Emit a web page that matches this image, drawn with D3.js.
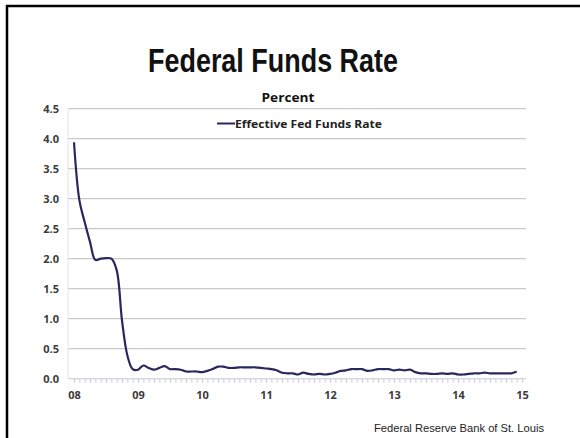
<!DOCTYPE html>
<html>
<head>
<meta charset="utf-8">
<script src="https://cdn.jsdelivr.net/npm/d3@7"></script>
<style>
  html, body { margin: 0; padding: 0; background: #fff; }
  svg { display: block; }
</style>
</head>
<body>
<svg id="chart" width="580" height="438"></svg>
<script>
// Monthly effective federal funds rate, Jan 2008 - Dec 2014 (percent)
const rate2008 = [3.94, 2.98, 2.61, 2.28, 1.98, 2.00, 2.01, 2.00, 1.81, 0.97, 0.39, 0.16];
const rate2009 = [0.15, 0.22, 0.18, 0.15, 0.18, 0.21, 0.16, 0.16, 0.15, 0.12, 0.12, 0.12];
const rate2010 = [0.11, 0.13, 0.16, 0.20, 0.20, 0.18, 0.18, 0.19, 0.19, 0.19, 0.19, 0.18];
const rate2011 = [0.17, 0.16, 0.14, 0.10, 0.09, 0.09, 0.07, 0.10, 0.08, 0.07, 0.08, 0.07];
const rate2012 = [0.08, 0.10, 0.13, 0.14, 0.16, 0.16, 0.16, 0.13, 0.14, 0.16, 0.16, 0.16];
const rate2013 = [0.14, 0.15, 0.14, 0.15, 0.11, 0.09, 0.09, 0.08, 0.08, 0.09, 0.08, 0.09];
const rate2014 = [0.07, 0.07, 0.08, 0.09, 0.09, 0.10, 0.09, 0.09, 0.09, 0.09, 0.09, 0.12];
const startYear = 2008;
const yearLabels = ["08", "09", "10", "11", "12", "13", "14", "15"];
const yTicks = [0, 0.5, 1.0, 1.5, 2.0, 2.5, 3.0, 3.5, 4.0, 4.5];
const seriesName = "Effective Fed Funds Rate";

const monthly = [rate2008, rate2009, rate2010, rate2011, rate2012, rate2013, rate2014]
  .flatMap((yr, i) => yr.map((v, m) => ({ t: startYear + i + m / 12, v })));

const svg = d3.select("#chart");

// frame (top and left rules)
svg.append("line").attr("x1", 6).attr("x2", 580).attr("y1", 6).attr("y2", 6)
  .attr("stroke", "#000").attr("stroke-width", 2.5);
svg.append("line").attr("x1", 7).attr("x2", 7).attr("y1", 5).attr("y2", 438)
  .attr("stroke", "#000").attr("stroke-width", 2.5);

const x = d3.scaleLinear().domain([startYear, startYear + 7]).range([74, 522]);
const y = d3.scaleLinear().domain([0, 4.5]).range([378.7, 108.7]);
const plotLeft = 68, plotRight = 526;

// horizontal gridlines
svg.append("g").selectAll("line").data(yTicks.filter(d => d > 0)).join("line")
  .attr("x1", plotLeft).attr("x2", plotRight)
  .attr("y1", d => y(d)).attr("y2", d => y(d))
  .attr("stroke", "#c9c9c9").attr("stroke-width", 1.2);

// faint vertical axis
svg.append("line").attr("x1", plotLeft).attr("x2", plotLeft)
  .attr("y1", y(4.5)).attr("y2", y(0))
  .attr("stroke", "#e2e2ea").attr("stroke-width", 1);

// y axis labels
const yAxis = d3.axisLeft(y).tickValues(yTicks).tickFormat(d3.format(".1f")).tickSize(0).tickPadding(0);
const gy = svg.append("g").attr("transform", "translate(59,0)").call(yAxis);
gy.select(".domain").remove();
gy.selectAll("text")
  .attr("font-family", "Open Sans, sans-serif").attr("font-weight", "bold")
  .attr("font-size", 11).attr("fill", "#3a3a3a");

// x axis: monthly minor ticks along zero line, year labels
const months = d3.range(0, 7 * 12 + 1).map(i => startYear + i / 12);
const xAxis = d3.axisBottom(x).tickValues(months).tickSize(4)
  .tickFormat(d => {
    const k = Math.round((d - startYear) * 12);
    return k % 12 === 0 ? yearLabels[k / 12] : "";
  }).tickPadding(9);
const gx = svg.append("g").attr("transform", `translate(0,${y(0)})`).call(xAxis);
gx.select(".domain").attr("stroke", "#d4d4dc").attr("stroke-width", 1.2)
  .attr("d", `M${plotLeft},0H${plotRight}`);
gx.selectAll(".tick line").attr("stroke", "#c8c8d4").attr("stroke-width", 1);
gx.selectAll("text")
  .attr("font-family", "Open Sans, sans-serif").attr("font-weight", "bold")
  .attr("font-size", 11).attr("fill", "#3a3a3a");

// series line
const line = d3.line().x(d => x(d.t)).y(d => y(d.v)).curve(d3.curveCatmullRom.alpha(0.5));
svg.append("path").datum(monthly)
  .attr("d", line).attr("fill", "none")
  .attr("stroke", "#28285e").attr("stroke-width", 2.2)
  .attr("stroke-linejoin", "round");

// title
svg.append("text").attr("x", 273).attr("y", 72).attr("text-anchor", "middle")
  .attr("font-family", "Liberation Sans, Arial, sans-serif").attr("font-weight", "bold")
  .attr("font-size", 34).attr("fill", "#111")
  .attr("textLength", 250).attr("lengthAdjust", "spacingAndGlyphs")
  .text("Federal Funds Rate");

svg.append("text").attr("x", 288).attr("y", 102).attr("text-anchor", "middle")
  .attr("font-family", "Open Sans, sans-serif").attr("font-weight", "bold")
  .attr("font-size", 12).attr("fill", "#111")
  .attr("textLength", 53).attr("lengthAdjust", "spacingAndGlyphs")
  .text("Percent");

// legend
svg.append("line").attr("x1", 217).attr("x2", 235).attr("y1", 123.5).attr("y2", 123.5)
  .attr("stroke", "#28285e").attr("stroke-width", 2);
svg.append("text").attr("x", 235).attr("y", 127.5)
  .attr("font-family", "Open Sans, sans-serif").attr("font-weight", "bold")
  .attr("font-size", 10.5).attr("fill", "#222")
  .attr("textLength", 147).attr("lengthAdjust", "spacingAndGlyphs")
  .text(seriesName);

// source note
svg.append("text").attr("x", 374).attr("y", 432)
  .attr("font-family", "Liberation Sans, Arial, sans-serif")
  .attr("font-size", 10.5).attr("fill", "#222")
  .attr("textLength", 170).attr("lengthAdjust", "spacingAndGlyphs")
  .text("Federal Reserve Bank of St. Louis");
</script>
</body>
</html>
